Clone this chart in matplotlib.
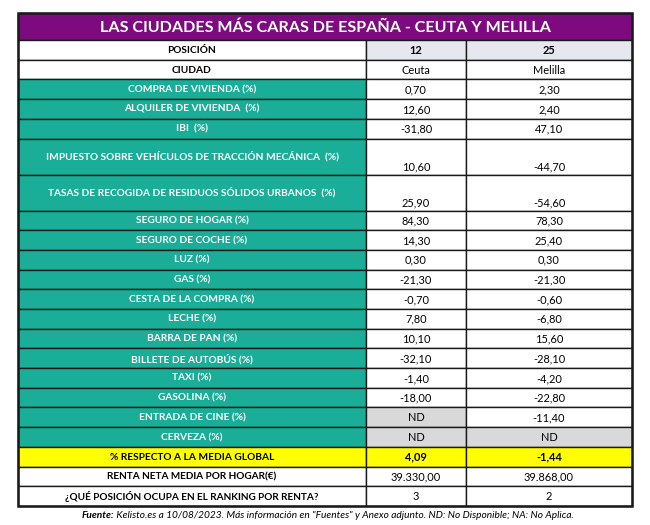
import matplotlib.pyplot as plt
from matplotlib.patches import Rectangle

plt.rcParams["font.family"] = ["Lato", "DejaVu Sans"]

title = "LAS CIUDADES MÁS CARAS DE ESPAÑA - CEUTA Y MELILLA"
positions = ["12", "25"]
cities = ["Ceuta", "Melilla"]

concepts = [
    "COMPRA DE VIVIENDA (%)",
    "ALQUILER DE VIVIENDA  (%)",
    "IBI  (%)",
    "IMPUESTO SOBRE VEHÍCULOS DE TRACCIÓN MECÁNICA  (%)",
    "TASAS DE RECOGIDA DE RESIDUOS SÓLIDOS URBANOS  (%)",
    "SEGURO DE HOGAR (%)",
    "SEGURO DE COCHE (%)",
    "LUZ (%)",
    "GAS (%)",
    "CESTA DE LA COMPRA (%)",
    "LECHE (%)",
    "BARRA DE PAN (%)",
    "BILLETE DE AUTOBÚS (%)",
    "TAXI (%)",
    "GASOLINA (%)",
    "ENTRADA DE CINE (%)",
    "CERVEZA (%)",
]
ceuta = ["0,70", "12,60", "-31,80", "10,60", "25,90", "84,30", "14,30", "0,30",
         "-21,30", "-0,70", "7,80", "10,10", "-32,10", "-1,40", "-18,00", "ND", "ND"]
melilla = ["2,30", "2,40", "47,10", "-44,70", "-54,60", "78,30", "25,40", "0,30",
           "-21,30", "-0,60", "-6,80", "15,60", "-28,10", "-4,20", "-22,80", "-11,40", "ND"]

media_label = "% RESPECTO A LA MEDIA GLOBAL"
media = ["4,09", "-1,44"]
renta_label = "RENTA NETA MEDIA POR HOGAR(€)"
renta = ["39.330,00", "39.868,00"]
ranking_label = "¿QUÉ POSICIÓN OCUPA EN EL RANKING POR RENTA?"
ranking = ["3", "2"]

footer_bold = "Fuente:"
footer_rest = (" Kelisto.es a 10/08/2023. Más información en \"Fuentes\" y Anexo adjunto."
               " ND: No Disponible; NA: No Aplica.")

PURPLE = "#7d0b7f"
TEAL = "#1aae98"
HEAD_GRAY = "#e5e8ef"
ND_GRAY = "#d9d9d9"
YELLOW = "#ffff00"

x0, x1, x2, x3 = 18, 366, 466, 632
row_h = 19.7
tall_h = 36.0
tall_rows = {3, 4}

fig = plt.figure(figsize=(6.5, 5.25), dpi=100)
ax = fig.add_axes([0, 0, 1, 1])
ax.set_xlim(0, 650)
ax.set_ylim(525, 0)
ax.axis("off")

fs_lab = 7.3
fs_val = 7.9


def cell(x, y, w, h, color, text, tcolor="black", bold=False, va="center", size=fs_val):
    ax.add_patch(Rectangle((x, y), w, h, facecolor=color, edgecolor="#1a1a1a", lw=1.0))
    if va == "center":
        ax.text(x + w / 2, y + h / 2 + 0.5, text, ha="center", va="center", color=tcolor,
                fontsize=size, fontweight="bold" if bold else "normal")
    else:
        ax.text(x + w / 2, y + h - 4.5, text, ha="center", va="baseline", color=tcolor,
                fontsize=size, fontweight="bold" if bold else "normal")


# title
y = 13.3
title_h = 26.7
ax.add_patch(Rectangle((x0, y), x3 - x0, title_h, facecolor=PURPLE, edgecolor="#1a1a1a", lw=1.0))
ax.text((x0 + x3) / 2, y + title_h / 2 + 1, title, ha="center", va="center",
        color="white", fontsize=11.6, fontweight="bold")
y += title_h

# header rows
cell(x0, y, x1 - x0, row_h, "white", "POSICIÓN", bold=True, size=fs_lab)
cell(x1, y, x2 - x1, row_h, HEAD_GRAY, positions[0], bold=True)
cell(x2, y, x3 - x2, row_h, HEAD_GRAY, positions[1], bold=True)
y += row_h
cell(x0, y, x1 - x0, row_h, "white", "CIUDAD", bold=True, size=fs_lab)
cell(x1, y, x2 - x1, row_h, "white", cities[0])
cell(x2, y, x3 - x2, row_h, "white", cities[1])
y += row_h

# concept rows
for i, (lab, a, b) in enumerate(zip(concepts, ceuta, melilla)):
    h = tall_h if i in tall_rows else row_h
    ax.add_patch(Rectangle((x0, y), x1 - x0, h, facecolor=TEAL, edgecolor="#1a1a1a", lw=1.0))
    ly = y + (h / 2 + 0.5 if i not in tall_rows else h / 2 - 0.5)
    ax.text((x0 + x1) / 2, ly, lab, ha="center", va="center", color="white",
            fontsize=fs_lab, fontweight="bold")
    va = "bottom" if i in tall_rows else "center"
    cell(x1, y, x2 - x1, h, ND_GRAY if a == "ND" else "white", a, va=va)
    cell(x2, y, x3 - x2, h, ND_GRAY if b == "ND" else "white", b, va=va)
    y += h

# summary rows
cell(x0, y, x1 - x0, row_h, YELLOW, media_label, bold=True, size=fs_lab)
cell(x1, y, x2 - x1, row_h, YELLOW, media[0], bold=True)
cell(x2, y, x3 - x2, row_h, YELLOW, media[1], bold=True)
y += row_h
cell(x0, y, x1 - x0, row_h, "white", renta_label, bold=True, size=7.2)
cell(x1, y, x2 - x1, row_h, "white", renta[0])
cell(x2, y, x3 - x2, row_h, "white", renta[1])
y += row_h
cell(x0, y, x1 - x0, row_h, "white", ranking_label, bold=True, size=7.2)
cell(x1, y, x2 - x1, row_h, "white", ranking[0])
cell(x2, y, x3 - x2, row_h, "white", ranking[1])
y += row_h

# outer border
ax.add_patch(Rectangle((x0, 13.3), x3 - x0, y - 13.3, facecolor="none",
                       edgecolor="#1a1a1a", lw=1.8))

# footer
t1 = ax.text(82, 515, footer_bold, ha="left", va="center", fontsize=7.3,
             fontweight="bold", fontstyle="italic")
fig.canvas.draw()
bb = t1.get_window_extent()
xe = ax.transData.inverted().transform((bb.x1, bb.y0))[0]
ax.text(xe, 515, footer_rest, ha="left", va="center", fontsize=7.3, fontstyle="italic")

fig.savefig("out.png", dpi=100)
